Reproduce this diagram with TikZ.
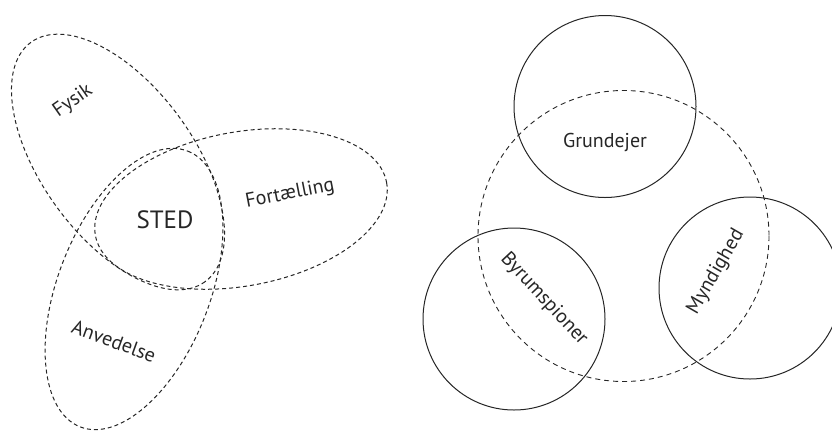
\documentclass[tikz,border=0pt]{standalone}
\usepackage{fontspec}
\setmainfont{PT Sans}
\begin{document}
\begin{tikzpicture}[x=1pt,y=-1pt,
  leaf/.style={draw=black!85, line width=1pt, dash pattern=on 4pt off 3pt},
  ring/.style={draw=black!85, line width=1pt},
  ringdash/.style={draw=black!85, line width=0.9pt, dash pattern=on 5pt off 4pt},
  lbl/.style={text=black!85, font=\fontsize{20}{24}\selectfont, inner sep=0pt},
  biglbl/.style={text=black!85, font=\fontsize{25}{30}\selectfont, inner sep=0pt}]
\useasboundingbox (0,0) rectangle (832,432);
\clip (0,0) rectangle (832,432);
% left: three petals
\draw[leaf, rotate around={-54:(118,162)}] (118,162) ellipse [x radius=148, y radius=76];
\draw[leaf, rotate around={68.7:(134,289)}] (134,289) ellipse [x radius=148, y radius=76];
\draw[leaf, rotate around={10.3:(241,209)}] (241,209) ellipse [x radius=148, y radius=77];
\node[lbl, rotate=35] (fysik) at (73,101) {Fysik};
\node[biglbl] (sted) at (165,220) {STED};
\node[lbl, rotate=11] (fort) at (290,194) {Fortælling};
\node[lbl, rotate=-20] (anv) at (114,341) {Anvedelse};
% right: circles
\draw[ringdash] (623.5,236) circle [radius=145.5];
\draw[ring] (605,106.5) circle [radius=91];
\draw[ring] (514,319) circle [radius=91];
\draw[ring] (750,288) circle [radius=91];
\node[lbl] (grund) at (605,142) {Grundejer};
\node[lbl, rotate=-47] (byrum) at (544,299) {Byrumspioner};
\node[lbl, rotate=60] (mynd) at (716,272) {Myndighed};
\end{tikzpicture}
\end{document}
